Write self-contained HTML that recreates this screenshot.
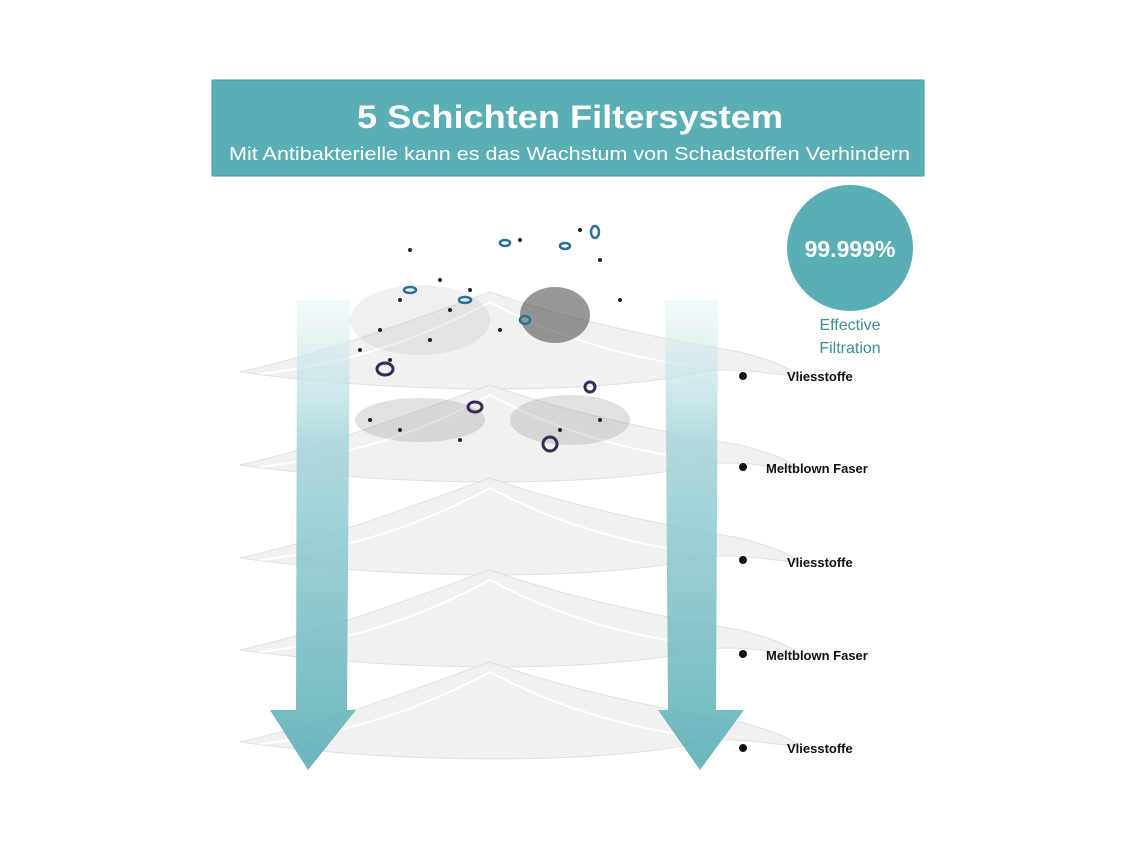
<!DOCTYPE html>
<html><head><meta charset="utf-8"><style>
body{margin:0;background:#fff;}
svg{display:block}
text{font-family:"Liberation Sans",sans-serif;}
</style></head><body>
<svg width="1140" height="855" viewBox="0 0 1140 855">
<defs>
<linearGradient id="ar" x1="0" y1="0" x2="0" y2="1">
<stop offset="0" stop-color="#e4f3f5" stop-opacity="0.5"/>
<stop offset="0.3" stop-color="#a9d7dc"/>
<stop offset="1" stop-color="#5aafb5"/>
</linearGradient>
<g id="layer">
<path d="M240,0 C330,-20 420,-55 490,-80 C560,-55 650,-35 740,-20 C770,-12 790,-5 800,5 C760,0 730,-5 700,0 C620,20 420,25 240,0Z" fill="#f1f1f1" stroke="#e0e0e0"/>
<path d="M260,2 C360,-10 430,-38 490,-70 C550,-38 620,-15 700,-5" fill="none" stroke="#fff" stroke-width="2"/>
</g>
</defs>
<rect x="212" y="80" width="712" height="96" fill="#5aafb5" stroke="#4a9aa0"/>
<text x="357" y="128" textLength="426" lengthAdjust="spacingAndGlyphs" font-size="32" font-weight="bold" fill="#fff">5 Schichten Filtersystem</text>
<text x="229" y="160" textLength="681" lengthAdjust="spacingAndGlyphs" font-size="18" fill="#fff">Mit Antibakterielle kann es das Wachstum von Schadstoffen Verhindern</text>
<circle cx="850" cy="248" r="63" fill="#5aafb5"/>
<text x="850" y="257" text-anchor="middle" font-size="23" font-weight="bold" fill="#fff">99.999%</text>
<text x="850" y="330" text-anchor="middle" font-size="16" fill="#3c8f96">Effective</text>
<text x="850" y="353" text-anchor="middle" font-size="16" fill="#3c8f96">Filtration</text>
<use href="#layer" y="372"/>
<use href="#layer" y="465"/>
<use href="#layer" y="558"/>
<use href="#layer" y="650"/>
<use href="#layer" y="742"/>
<g>
<ellipse cx="420" cy="320" rx="70" ry="35" fill="#999" opacity="0.15"/>
<ellipse cx="555" cy="315" rx="35" ry="28" fill="#444" opacity="0.55"/>
<ellipse cx="420" cy="420" rx="65" ry="22" fill="#888" opacity="0.25"/>
<ellipse cx="570" cy="420" rx="60" ry="25" fill="#888" opacity="0.25"/>
</g>
<g fill="#222">
<circle cx="380" cy="330" r="2"/><circle cx="400" cy="300" r="2"/><circle cx="430" cy="340" r="2"/><circle cx="360" cy="350" r="2"/><circle cx="450" cy="310" r="2"/><circle cx="470" cy="290" r="2"/><circle cx="410" cy="250" r="2"/><circle cx="520" cy="240" r="2"/><circle cx="600" cy="260" r="2"/><circle cx="620" cy="300" r="2"/><circle cx="500" cy="330" r="2"/><circle cx="390" cy="360" r="2"/><circle cx="440" cy="280" r="2"/><circle cx="580" cy="230" r="2"/><circle cx="370" cy="420" r="2"/><circle cx="400" cy="430" r="2"/><circle cx="560" cy="430" r="2"/><circle cx="600" cy="420" r="2"/><circle cx="460" cy="440" r="2"/>
</g>
<g fill="none" stroke="#2a6f9a" stroke-width="2.5">
<ellipse cx="410" cy="290" rx="6" ry="3"/><ellipse cx="465" cy="300" rx="6" ry="3"/><ellipse cx="505" cy="243" rx="5" ry="3"/><ellipse cx="595" cy="232" rx="4" ry="6"/><ellipse cx="565" cy="246" rx="5" ry="3"/><ellipse cx="525" cy="320" rx="5" ry="4"/>
</g>
<g fill="none" stroke="#3a2a55" stroke-width="3">
<ellipse cx="385" cy="369" rx="8" ry="6"/><ellipse cx="475" cy="407" rx="7" ry="5"/><ellipse cx="550" cy="444" rx="7" ry="7"/><ellipse cx="590" cy="387" rx="5" ry="5"/>
</g>
<path d="M297,300 L350,300 L347,710 L356,710 L308,770 L270,710 L296,710Z" fill="url(#ar)" opacity="0.9"/>
<path d="M665,300 L718,300 L716,710 L744,710 L700,770 L658,710 L668,710Z" fill="url(#ar)" opacity="0.9"/>
<g font-size="13" font-weight="bold" fill="#111">
<circle cx="743" cy="376" r="4" fill="#111"/><text x="787" y="381">Vliesstoffe</text>
<circle cx="743" cy="467" r="4" fill="#111"/><text x="766" y="473">Meltblown Faser</text>
<circle cx="743" cy="560" r="4" fill="#111"/><text x="787" y="567">Vliesstoffe</text>
<circle cx="743" cy="654" r="4" fill="#111"/><text x="766" y="660">Meltblown Faser</text>
<circle cx="743" cy="748" r="4" fill="#111"/><text x="787" y="753">Vliesstoffe</text>
</g>
</svg>
</body></html>
